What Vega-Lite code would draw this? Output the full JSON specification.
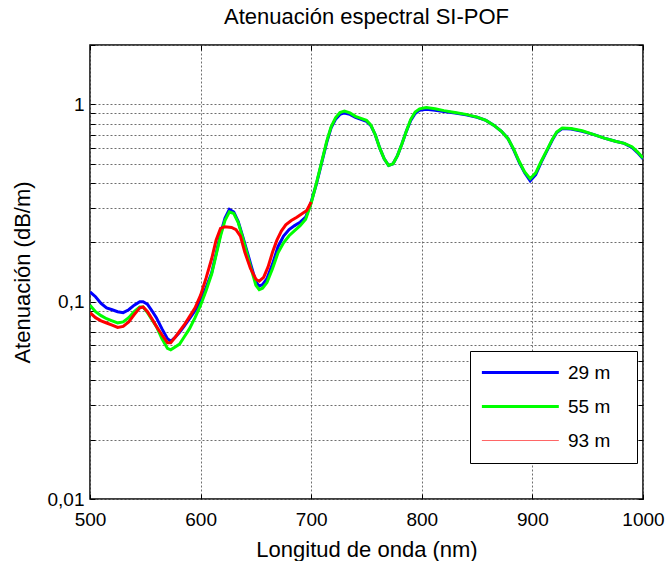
{
  "$schema": "https://vega.github.io/schema/vega-lite/v6.json",
  "width": 553,
  "height": 454,
  "autosize": "none",
  "padding": {"left": 90, "top": 45, "right": 24, "bottom": 62},
  "background": "white",
  "title": {
    "text": "Atenuación espectral SI-POF",
    "font": "Liberation Sans",
    "fontSize": 22,
    "fontWeight": "normal",
    "color": "black",
    "anchor": "middle",
    "baseline": "alphabetic",
    "offset": 18,
    "dy": 28
  },
  "config": {
    "font": "Liberation Sans",
    "view": {"stroke": "black", "strokeWidth": 1.5},
    "axis": {
      "labelFont": "Liberation Sans",
      "labelFontSize": 19,
      "labelColor": "black",
      "titleFont": "Liberation Sans",
      "titleFontSize": 22,
      "titleFontWeight": "normal",
      "titleColor": "black",
      "tickColor": "black",
      "tickWidth": 1,
      "tickSize": -5,
      "domain": false,
      "labelFlush": false,
      "labelOverlap": false,
      "gridColor": "#6e6e6e",
      "gridDash": [2, 2],
      "gridWidth": 1
    }
  },
  "data": {
    "values": [
      {"serie": "29 m", "nm": 500, "dB": 0.112},
      {"serie": "29 m", "nm": 505, "dB": 0.106},
      {"serie": "29 m", "nm": 510, "dB": 0.098},
      {"serie": "29 m", "nm": 515, "dB": 0.093},
      {"serie": "29 m", "nm": 520, "dB": 0.091},
      {"serie": "29 m", "nm": 525, "dB": 0.089},
      {"serie": "29 m", "nm": 530, "dB": 0.088},
      {"serie": "29 m", "nm": 535, "dB": 0.091},
      {"serie": "29 m", "nm": 540, "dB": 0.096},
      {"serie": "29 m", "nm": 545, "dB": 0.1},
      {"serie": "29 m", "nm": 548, "dB": 0.1},
      {"serie": "29 m", "nm": 552, "dB": 0.097},
      {"serie": "29 m", "nm": 556, "dB": 0.09},
      {"serie": "29 m", "nm": 560, "dB": 0.083},
      {"serie": "29 m", "nm": 565, "dB": 0.073},
      {"serie": "29 m", "nm": 570, "dB": 0.065},
      {"serie": "29 m", "nm": 573, "dB": 0.063},
      {"serie": "29 m", "nm": 577, "dB": 0.066},
      {"serie": "29 m", "nm": 581, "dB": 0.07},
      {"serie": "29 m", "nm": 585, "dB": 0.075},
      {"serie": "29 m", "nm": 590, "dB": 0.082},
      {"serie": "29 m", "nm": 595, "dB": 0.09},
      {"serie": "29 m", "nm": 600, "dB": 0.101},
      {"serie": "29 m", "nm": 605, "dB": 0.118},
      {"serie": "29 m", "nm": 610, "dB": 0.14},
      {"serie": "29 m", "nm": 614, "dB": 0.175},
      {"serie": "29 m", "nm": 618, "dB": 0.22},
      {"serie": "29 m", "nm": 622, "dB": 0.265},
      {"serie": "29 m", "nm": 626, "dB": 0.294},
      {"serie": "29 m", "nm": 630, "dB": 0.285},
      {"serie": "29 m", "nm": 634, "dB": 0.255},
      {"serie": "29 m", "nm": 638, "dB": 0.215},
      {"serie": "29 m", "nm": 642, "dB": 0.18},
      {"serie": "29 m", "nm": 646, "dB": 0.15},
      {"serie": "29 m", "nm": 650, "dB": 0.126},
      {"serie": "29 m", "nm": 653, "dB": 0.12},
      {"serie": "29 m", "nm": 656, "dB": 0.122},
      {"serie": "29 m", "nm": 660, "dB": 0.131},
      {"serie": "29 m", "nm": 665, "dB": 0.155},
      {"serie": "29 m", "nm": 670, "dB": 0.19},
      {"serie": "29 m", "nm": 675, "dB": 0.215},
      {"serie": "29 m", "nm": 680, "dB": 0.232},
      {"serie": "29 m", "nm": 685, "dB": 0.243},
      {"serie": "29 m", "nm": 690, "dB": 0.253},
      {"serie": "29 m", "nm": 695, "dB": 0.268},
      {"serie": "29 m", "nm": 700, "dB": 0.32},
      {"serie": "29 m", "nm": 705, "dB": 0.4},
      {"serie": "29 m", "nm": 710, "dB": 0.52},
      {"serie": "29 m", "nm": 714, "dB": 0.64},
      {"serie": "29 m", "nm": 718, "dB": 0.76},
      {"serie": "29 m", "nm": 722, "dB": 0.84},
      {"serie": "29 m", "nm": 726, "dB": 0.89},
      {"serie": "29 m", "nm": 730, "dB": 0.905},
      {"serie": "29 m", "nm": 735, "dB": 0.89},
      {"serie": "29 m", "nm": 740, "dB": 0.86},
      {"serie": "29 m", "nm": 745, "dB": 0.84},
      {"serie": "29 m", "nm": 750, "dB": 0.82},
      {"serie": "29 m", "nm": 754, "dB": 0.78},
      {"serie": "29 m", "nm": 758, "dB": 0.7},
      {"serie": "29 m", "nm": 762, "dB": 0.6},
      {"serie": "29 m", "nm": 766, "dB": 0.53},
      {"serie": "29 m", "nm": 770, "dB": 0.49},
      {"serie": "29 m", "nm": 774, "dB": 0.5},
      {"serie": "29 m", "nm": 778, "dB": 0.55},
      {"serie": "29 m", "nm": 782, "dB": 0.63},
      {"serie": "29 m", "nm": 786, "dB": 0.73},
      {"serie": "29 m", "nm": 790, "dB": 0.83},
      {"serie": "29 m", "nm": 794, "dB": 0.9},
      {"serie": "29 m", "nm": 798, "dB": 0.935},
      {"serie": "29 m", "nm": 804, "dB": 0.945},
      {"serie": "29 m", "nm": 812, "dB": 0.935},
      {"serie": "29 m", "nm": 820, "dB": 0.92},
      {"serie": "29 m", "nm": 830, "dB": 0.905},
      {"serie": "29 m", "nm": 840, "dB": 0.885},
      {"serie": "29 m", "nm": 850, "dB": 0.86},
      {"serie": "29 m", "nm": 858, "dB": 0.83},
      {"serie": "29 m", "nm": 865, "dB": 0.785},
      {"serie": "29 m", "nm": 872, "dB": 0.73},
      {"serie": "29 m", "nm": 878, "dB": 0.67},
      {"serie": "29 m", "nm": 883, "dB": 0.59},
      {"serie": "29 m", "nm": 888, "dB": 0.51},
      {"serie": "29 m", "nm": 893, "dB": 0.45},
      {"serie": "29 m", "nm": 898, "dB": 0.41},
      {"serie": "29 m", "nm": 903, "dB": 0.44},
      {"serie": "29 m", "nm": 908, "dB": 0.51},
      {"serie": "29 m", "nm": 913, "dB": 0.58},
      {"serie": "29 m", "nm": 918, "dB": 0.66},
      {"serie": "29 m", "nm": 922, "dB": 0.72},
      {"serie": "29 m", "nm": 927, "dB": 0.755},
      {"serie": "29 m", "nm": 935, "dB": 0.75},
      {"serie": "29 m", "nm": 945, "dB": 0.73},
      {"serie": "29 m", "nm": 955, "dB": 0.705},
      {"serie": "29 m", "nm": 965, "dB": 0.675},
      {"serie": "29 m", "nm": 975, "dB": 0.65},
      {"serie": "29 m", "nm": 983, "dB": 0.635},
      {"serie": "29 m", "nm": 990, "dB": 0.605},
      {"serie": "29 m", "nm": 995, "dB": 0.57},
      {"serie": "29 m", "nm": 1000, "dB": 0.53},

      {"serie": "55 m", "nm": 500, "dB": 0.096},
      {"serie": "55 m", "nm": 505, "dB": 0.089},
      {"serie": "55 m", "nm": 510, "dB": 0.085},
      {"serie": "55 m", "nm": 515, "dB": 0.082},
      {"serie": "55 m", "nm": 520, "dB": 0.08},
      {"serie": "55 m", "nm": 525, "dB": 0.078},
      {"serie": "55 m", "nm": 530, "dB": 0.079},
      {"serie": "55 m", "nm": 535, "dB": 0.083},
      {"serie": "55 m", "nm": 540, "dB": 0.089},
      {"serie": "55 m", "nm": 545, "dB": 0.094},
      {"serie": "55 m", "nm": 548, "dB": 0.094},
      {"serie": "55 m", "nm": 552, "dB": 0.088},
      {"serie": "55 m", "nm": 556, "dB": 0.081},
      {"serie": "55 m", "nm": 560, "dB": 0.075},
      {"serie": "55 m", "nm": 565, "dB": 0.065},
      {"serie": "55 m", "nm": 570, "dB": 0.058},
      {"serie": "55 m", "nm": 573, "dB": 0.057},
      {"serie": "55 m", "nm": 577, "dB": 0.059},
      {"serie": "55 m", "nm": 581, "dB": 0.061},
      {"serie": "55 m", "nm": 585, "dB": 0.066},
      {"serie": "55 m", "nm": 590, "dB": 0.073},
      {"serie": "55 m", "nm": 595, "dB": 0.083},
      {"serie": "55 m", "nm": 600, "dB": 0.096},
      {"serie": "55 m", "nm": 605, "dB": 0.114},
      {"serie": "55 m", "nm": 610, "dB": 0.138},
      {"serie": "55 m", "nm": 614, "dB": 0.172},
      {"serie": "55 m", "nm": 618, "dB": 0.215},
      {"serie": "55 m", "nm": 622, "dB": 0.258},
      {"serie": "55 m", "nm": 626, "dB": 0.285},
      {"serie": "55 m", "nm": 630, "dB": 0.28},
      {"serie": "55 m", "nm": 634, "dB": 0.252},
      {"serie": "55 m", "nm": 638, "dB": 0.212},
      {"serie": "55 m", "nm": 642, "dB": 0.175},
      {"serie": "55 m", "nm": 646, "dB": 0.145},
      {"serie": "55 m", "nm": 650, "dB": 0.121},
      {"serie": "55 m", "nm": 653, "dB": 0.115},
      {"serie": "55 m", "nm": 656, "dB": 0.117},
      {"serie": "55 m", "nm": 660, "dB": 0.125},
      {"serie": "55 m", "nm": 665, "dB": 0.147},
      {"serie": "55 m", "nm": 670, "dB": 0.177},
      {"serie": "55 m", "nm": 675, "dB": 0.199},
      {"serie": "55 m", "nm": 680, "dB": 0.216},
      {"serie": "55 m", "nm": 685, "dB": 0.229},
      {"serie": "55 m", "nm": 690, "dB": 0.243},
      {"serie": "55 m", "nm": 695, "dB": 0.262},
      {"serie": "55 m", "nm": 700, "dB": 0.316},
      {"serie": "55 m", "nm": 705, "dB": 0.405},
      {"serie": "55 m", "nm": 710, "dB": 0.525},
      {"serie": "55 m", "nm": 714, "dB": 0.65},
      {"serie": "55 m", "nm": 718, "dB": 0.77},
      {"serie": "55 m", "nm": 722, "dB": 0.855},
      {"serie": "55 m", "nm": 726, "dB": 0.91},
      {"serie": "55 m", "nm": 730, "dB": 0.925},
      {"serie": "55 m", "nm": 735, "dB": 0.905},
      {"serie": "55 m", "nm": 740, "dB": 0.87},
      {"serie": "55 m", "nm": 745, "dB": 0.85},
      {"serie": "55 m", "nm": 750, "dB": 0.83},
      {"serie": "55 m", "nm": 754, "dB": 0.785},
      {"serie": "55 m", "nm": 758, "dB": 0.7},
      {"serie": "55 m", "nm": 762, "dB": 0.6},
      {"serie": "55 m", "nm": 766, "dB": 0.53},
      {"serie": "55 m", "nm": 770, "dB": 0.49},
      {"serie": "55 m", "nm": 774, "dB": 0.5},
      {"serie": "55 m", "nm": 778, "dB": 0.55},
      {"serie": "55 m", "nm": 782, "dB": 0.63},
      {"serie": "55 m", "nm": 786, "dB": 0.73},
      {"serie": "55 m", "nm": 790, "dB": 0.84},
      {"serie": "55 m", "nm": 794, "dB": 0.915},
      {"serie": "55 m", "nm": 798, "dB": 0.95},
      {"serie": "55 m", "nm": 804, "dB": 0.965},
      {"serie": "55 m", "nm": 812, "dB": 0.95},
      {"serie": "55 m", "nm": 820, "dB": 0.93},
      {"serie": "55 m", "nm": 830, "dB": 0.91},
      {"serie": "55 m", "nm": 840, "dB": 0.89},
      {"serie": "55 m", "nm": 850, "dB": 0.862},
      {"serie": "55 m", "nm": 858, "dB": 0.83},
      {"serie": "55 m", "nm": 865, "dB": 0.785},
      {"serie": "55 m", "nm": 872, "dB": 0.73},
      {"serie": "55 m", "nm": 878, "dB": 0.67},
      {"serie": "55 m", "nm": 883, "dB": 0.595},
      {"serie": "55 m", "nm": 888, "dB": 0.515},
      {"serie": "55 m", "nm": 893, "dB": 0.455},
      {"serie": "55 m", "nm": 898, "dB": 0.42},
      {"serie": "55 m", "nm": 903, "dB": 0.45},
      {"serie": "55 m", "nm": 908, "dB": 0.515},
      {"serie": "55 m", "nm": 913, "dB": 0.585},
      {"serie": "55 m", "nm": 918, "dB": 0.665},
      {"serie": "55 m", "nm": 922, "dB": 0.725},
      {"serie": "55 m", "nm": 927, "dB": 0.76},
      {"serie": "55 m", "nm": 935, "dB": 0.755},
      {"serie": "55 m", "nm": 945, "dB": 0.735},
      {"serie": "55 m", "nm": 955, "dB": 0.705},
      {"serie": "55 m", "nm": 965, "dB": 0.675},
      {"serie": "55 m", "nm": 975, "dB": 0.65},
      {"serie": "55 m", "nm": 983, "dB": 0.635},
      {"serie": "55 m", "nm": 990, "dB": 0.61},
      {"serie": "55 m", "nm": 995, "dB": 0.575},
      {"serie": "55 m", "nm": 1000, "dB": 0.535},

      {"serie": "93 m", "nm": 500, "dB": 0.088},
      {"serie": "93 m", "nm": 505, "dB": 0.083},
      {"serie": "93 m", "nm": 510, "dB": 0.08},
      {"serie": "93 m", "nm": 515, "dB": 0.078},
      {"serie": "93 m", "nm": 520, "dB": 0.076},
      {"serie": "93 m", "nm": 525, "dB": 0.074},
      {"serie": "93 m", "nm": 530, "dB": 0.075},
      {"serie": "93 m", "nm": 535, "dB": 0.079},
      {"serie": "93 m", "nm": 540, "dB": 0.086},
      {"serie": "93 m", "nm": 545, "dB": 0.093},
      {"serie": "93 m", "nm": 548, "dB": 0.094},
      {"serie": "93 m", "nm": 552, "dB": 0.089},
      {"serie": "93 m", "nm": 556, "dB": 0.082},
      {"serie": "93 m", "nm": 560, "dB": 0.075},
      {"serie": "93 m", "nm": 565, "dB": 0.068},
      {"serie": "93 m", "nm": 570, "dB": 0.062},
      {"serie": "93 m", "nm": 573, "dB": 0.062},
      {"serie": "93 m", "nm": 577, "dB": 0.066},
      {"serie": "93 m", "nm": 581, "dB": 0.071},
      {"serie": "93 m", "nm": 585, "dB": 0.076},
      {"serie": "93 m", "nm": 590, "dB": 0.084},
      {"serie": "93 m", "nm": 595, "dB": 0.093},
      {"serie": "93 m", "nm": 600, "dB": 0.108},
      {"serie": "93 m", "nm": 605, "dB": 0.132},
      {"serie": "93 m", "nm": 610, "dB": 0.165},
      {"serie": "93 m", "nm": 614, "dB": 0.205},
      {"serie": "93 m", "nm": 618, "dB": 0.235},
      {"serie": "93 m", "nm": 622, "dB": 0.24},
      {"serie": "93 m", "nm": 628, "dB": 0.238},
      {"serie": "93 m", "nm": 632, "dB": 0.232},
      {"serie": "93 m", "nm": 636, "dB": 0.215},
      {"serie": "93 m", "nm": 640, "dB": 0.178},
      {"serie": "93 m", "nm": 645, "dB": 0.148},
      {"serie": "93 m", "nm": 650, "dB": 0.13},
      {"serie": "93 m", "nm": 653, "dB": 0.127},
      {"serie": "93 m", "nm": 657, "dB": 0.133},
      {"serie": "93 m", "nm": 661, "dB": 0.15},
      {"serie": "93 m", "nm": 665, "dB": 0.178},
      {"serie": "93 m", "nm": 669, "dB": 0.205},
      {"serie": "93 m", "nm": 673, "dB": 0.228},
      {"serie": "93 m", "nm": 677, "dB": 0.245},
      {"serie": "93 m", "nm": 682, "dB": 0.258},
      {"serie": "93 m", "nm": 687, "dB": 0.268},
      {"serie": "93 m", "nm": 692, "dB": 0.28},
      {"serie": "93 m", "nm": 696, "dB": 0.29},
      {"serie": "93 m", "nm": 700, "dB": 0.32}
    ]
  },
  "layer": [
    {
      "mark": {"type": "line", "strokeWidth": 3, "clip": true},
      "encoding": {
        "x": {
          "field": "nm",
          "type": "quantitative",
          "scale": {"domain": [500, 1000], "nice": false, "zero": false},
          "axis": {
            "orient": "bottom",
            "values": [500, 600, 700, 800, 900, 1000],
            "format": "d",
            "grid": true,
            "labelPadding": 16,
            "title": "Longitud de onda (nm)",
            "titleBaseline": "alphabetic",
            "titleX": 276.5,
            "titleY": 57,
            "titleAlign": "center"
          }
        },
        "y": {
          "field": "dB",
          "type": "quantitative",
          "scale": {"type": "log", "domain": [0.01, 2], "nice": false},
          "axis": {
            "orient": "left",
            "values": [0.01, 0.02, 0.03, 0.04, 0.05, 0.06, 0.07, 0.08, 0.09, 0.1, 0.2, 0.3, 0.4, 0.5, 0.6, 0.7, 0.8, 0.9, 1, 2],
            "labelExpr": "datum.value == 1 ? '1' : datum.value == 0.1 ? '0,1' : datum.value == 0.01 ? '0,01' : ''",
            "grid": true,
            "labelPadding": 11,
            "title": "Atenuación (dB/m)",
            "titleAngle": -90,
            "titleBaseline": "alphabetic",
            "titleX": -61,
            "titleY": 227,
            "titleAlign": "center",
            "encode": {
              "grid": {
                "update": {
                  "stroke": {"signal": "datum.value == 0.01 || datum.value == 0.1 || datum.value == 1 ? '#3c3c3c' : '#7a7a7a'"}
                }
              }
            }
          }
        },
        "color": {
          "field": "serie",
          "type": "nominal",
          "scale": {"domain": ["29 m", "55 m", "93 m"], "range": ["#0000ff", "#00ff00", "#ff0000"]},
          "legend": {
            "orient": "none",
            "legendX": 380,
            "legendY": 306,
            "title": null,
            "strokeColor": "black",
            "fillColor": "white",
            "padding": 12,
            "rowPadding": 14,
            "labelFont": "Liberation Sans",
            "labelFontSize": 19,
            "labelColor": "black",
            "labelOffset": 67,
            "symbolType": "M-1,0H7M13.2,0",
            "symbolSize": 370,
            "symbolStrokeWidth": 3,
            "symbolFillColor": "transparent",
            "encode": {
              "symbols": {
                "update": {
                  "strokeWidth": {"signal": "datum.value == '93 m' ? 1.2 : 3"},
                  "strokeOpacity": {"signal": "datum.value == '93 m' ? 0.6 : 1"}
                }
              }
            }
          }
        }
      }
    },
    {
      "mark": {"type": "point", "opacity": 0},
      "encoding": {
        "x": {
          "field": "nm",
          "type": "quantitative",
          "axis": {
            "orient": "top",
            "values": [500, 600, 700, 800, 900, 1000],
            "labels": false,
            "grid": false,
            "title": null
          }
        },
        "y": {
          "field": "dB",
          "type": "quantitative",
          "axis": {
            "orient": "right",
            "values": [0.01, 0.02, 0.03, 0.04, 0.05, 0.06, 0.07, 0.08, 0.09, 0.1, 0.2, 0.3, 0.4, 0.5, 0.6, 0.7, 0.8, 0.9, 1, 2],
            "labels": false,
            "grid": false,
            "title": null
          }
        }
      }
    }
  ],
  "resolve": {"axis": {"x": "independent", "y": "independent"}}
}
